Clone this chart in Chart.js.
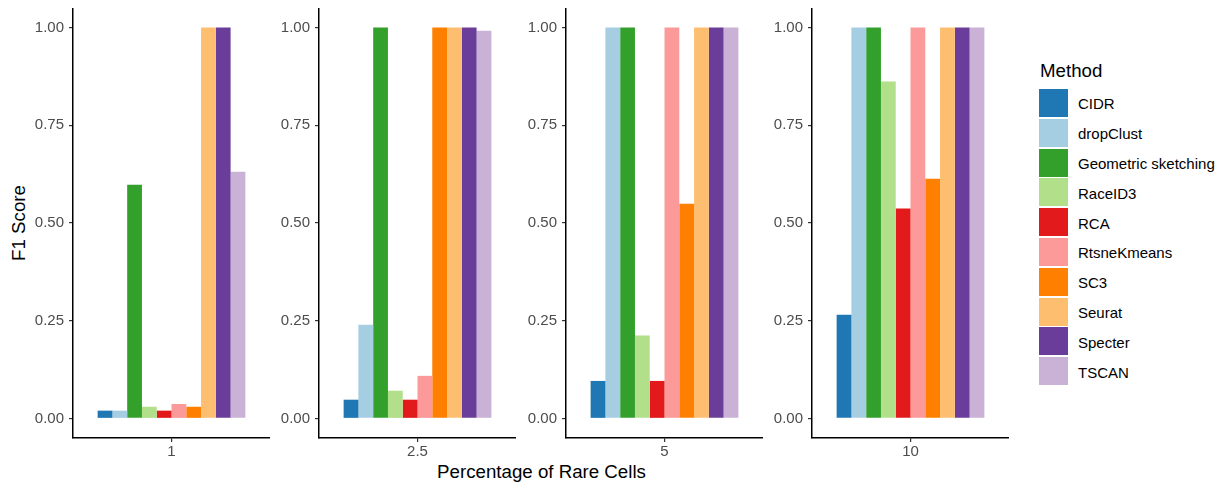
<!DOCTYPE html>
<html>
<head>
<meta charset="utf-8">
<script src="https://cdn.jsdelivr.net/npm/chart.js@4"></script>
<style>
  body { margin: 0; background: #fff; font-family: "Liberation Sans", Arial, sans-serif; }
  #wrap { position: relative; width: 1220px; height: 483px; overflow: hidden; }
  canvas { position: absolute; }
  .title { position: absolute; font-size: 18.7px; line-height: 18.7px; color: #000; white-space: nowrap; }
  .key { position: absolute; width: 29px; height: 28px; }
  .keyLabel { position: absolute; font-size: 15px; line-height: 15px; color: #000; white-space: nowrap; }
</style>
</head>
<body>
<div id="wrap">
  <div class="title" id="ytitle" style="left:19px; top:223px; transform: translate(-50%, -50%) rotate(-90deg);">F1 Score</div>
  <div class="title" id="xtitle" style="left:541.5px; top:463px; transform: translateX(-50%);">Percentage of Rare Cells</div>
  <div class="title" style="left:1040px; top:61.5px;">Method</div>
</div>
<script>
// Facets (percentage of rare cells) and methods
const percentages = ['1', '2.5', '5', '10'];
const methods = ['CIDR', 'dropClust', 'Geometric sketching', 'RaceID3', 'RCA',
                 'RtsneKmeans', 'SC3', 'Seurat', 'Specter', 'TSCAN'];
const colors = ['#1F78B4', '#A6CEE3', '#33A02C', '#B2DF8A', '#E31A1C',
                '#FB9A99', '#FF7F00', '#FDBF6F', '#6A3D9A', '#CAB2D6'];

// F1 score per method, one array per facet
const f1Pct1   = [0.02, 0.02, 0.598, 0.03, 0.02, 0.037, 0.03, 1.0, 1.0, 0.631];
const f1Pct2_5 = [0.048, 0.24, 1.0, 0.071, 0.048, 0.109, 1.0, 1.0, 1.0, 0.992];
const f1Pct5   = [0.096, 1.0, 1.0, 0.212, 0.096, 1.0, 0.549, 1.0, 1.0, 1.0];
const f1Pct10  = [0.265, 1.0, 1.0, 0.862, 0.537, 1.0, 0.613, 1.0, 1.0, 1.0];
const panelValues = [f1Pct1, f1Pct2_5, f1Pct5, f1Pct10];

const yTicks = [0, 0.25, 0.5, 0.75, 1.0];

const wrap = document.getElementById('wrap');
const axisLeft = [73, 319, 566, 812];   // x of each panel's y axis
const labelRoom = 60;
const panelWidth = 197;

percentages.forEach(function(pct, p) {
    const canvas = document.createElement('canvas');
    canvas.width = labelRoom + panelWidth;
    canvas.height = 467;
    canvas.style.left = (axisLeft[p] - labelRoom) + 'px';
    canvas.style.top = '8px';
    wrap.appendChild(canvas);

    new Chart(canvas.getContext('2d'), {
        type: 'bar',
        data: {
            labels: [pct],
            datasets: methods.map(function(m, i) {
                return {
                    label: m,
                    data: [panelValues[p][i]],
                    backgroundColor: colors[i],
                    borderWidth: 0
                };
            })
        },
        options: {
            responsive: false,
            animation: false,
            layout: { padding: 0 },
            datasets: { bar: { barPercentage: 1.0, categoryPercentage: 0.75 } },
            plugins: { legend: { display: false }, tooltip: { enabled: false } },
            scales: {
                x: {
                    offset: true,
                    grid: { display: true, offset: false, drawOnChartArea: false, tickLength: 4, color: '#333', lineWidth: 1.2 },
                    border: { display: true, color: '#000', width: 1.5 },
                    ticks: { color: '#4d4d4d', font: { family: '"Liberation Sans", Arial', size: 15 }, padding: 1 },
                    afterFit: function(scale) {
                        scale.height = 37;
                        scale.paddingLeft = 0;
                        scale.paddingRight = 0;
                    }
                },
                y: {
                    min: -0.05,
                    max: 1.05,
                    grid: { display: true, drawOnChartArea: false, tickLength: 4, color: '#333', lineWidth: 1.2 },
                    border: { display: true, color: '#000', width: 1.5 },
                    ticks: {
                        color: '#4d4d4d',
                        font: { family: '"Liberation Sans", Arial', size: 15 },
                        padding: 5,
                        callback: function(v) { return Number(v).toFixed(2); }
                    },
                    afterBuildTicks: function(scale) {
                        scale.ticks = yTicks.map(function(v) { return { value: v }; });
                    },
                    afterFit: function(scale) {
                        scale.width = labelRoom;
                        scale.paddingTop = 0;
                        scale.paddingBottom = 0;
                    }
                }
            }
        }
    });
});

// Legend
methods.forEach(function(m, i) {
    const rowTop = 89 + i * 29.8;
    const key = document.createElement('div');
    key.className = 'key';
    key.style.left = '1039px';
    key.style.top = rowTop + 'px';
    key.style.background = colors[i];
    wrap.appendChild(key);

    const lab = document.createElement('div');
    lab.className = 'keyLabel';
    lab.style.left = '1078px';
    lab.style.top = (rowTop + 7.3) + 'px';
    lab.textContent = m;
    wrap.appendChild(lab);
});
</script>
</body>
</html>
